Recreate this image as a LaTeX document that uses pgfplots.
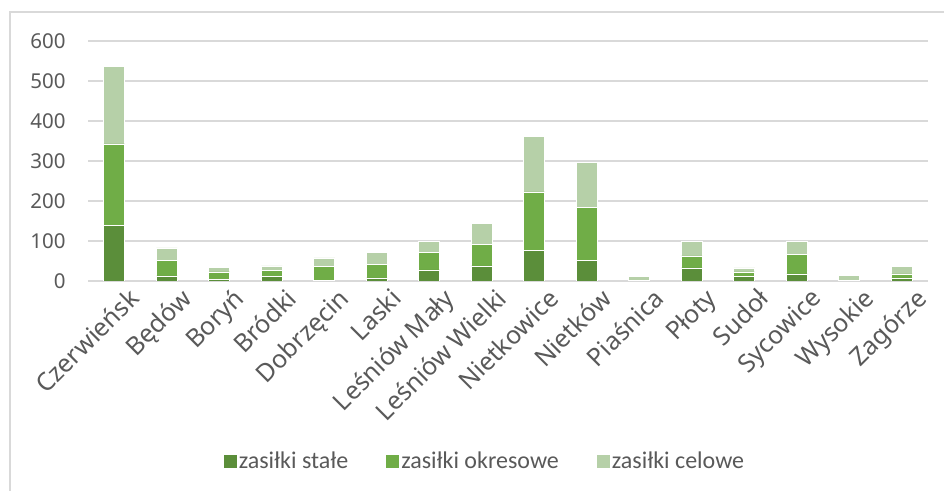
\documentclass[border=0pt]{standalone}
\usepackage{pgfplots}
\usepackage{pgfplotstable}
\pgfplotsset{compat=1.18}
\usepackage{fontspec}
\setmainfont{Carlito}
\newfontfamily\lblfont{Noto Sans}

\definecolor{cstale}{HTML}{5B8E3A}
\definecolor{cokres}{HTML}{70AD47}
\definecolor{ccelow}{HTML}{B6D0A8}
\definecolor{gridgray}{HTML}{D9D9D9}
\definecolor{txtgray}{HTML}{595959}

% x stale okresowe celowe
\pgfplotstableread{
x stale okres celowe
0 139 204 193
1 13 38 32
2 5 18 12
3 11 15 12
4 1 35 22
5 8 33 31
6 28 43 29
7 38 53 53
8 76 147 139
9 51 134 112
10 0 1 10
11 33 30 37
12 11 12 10
13 18 49 33
14 2 0 13
15 8 10 19
}\dane

\begin{document}
\begin{tikzpicture}
\useasboundingbox (0,0) rectangle (944bp,491bp);
\draw[gridgray, line width=1.5bp] (10bp,0) -- (10bp,479bp) -- (944bp,479bp);
\begin{axis}[
    at={(88bp,210bp)}, anchor=south west,
    scale only axis, width=840bp, height=240bp,
    ybar stacked, bar width=21bp,
    xmin=-0.5, xmax=15.5, ymin=0, ymax=600,
    ytick={0,100,...,600},
    xtick={0,...,15},
    xticklabels={Czerwieńsk, Będów, Boryń, Bródki, Dobrzęcin, Laski, Leśniów Mały, Leśniów Wielki, Nietkowice, Nietków, Piaśnica, Płoty, Sudoł, Sycowice, Wysokie, Zagórze},
    axis line style={draw=none},
    tick style={draw=none},
    ymajorgrids, grid style={gridgray, line width=1.5bp},
    /pgf/number format/assume math mode=true,
    yticklabel style={font=\lblfont\fontsize{20.5bp}{24bp}\selectfont, text=txtgray, xshift=-19bp},
    xticklabel style={font=\lblfont\fontsize{25bp}{29bp}\selectfont, text=txtgray,
        rotate=45, anchor=north east, inner sep=1bp, xshift=6bp, yshift=-12bp},
    legend columns=3,
    legend style={at={(0.4726,-0.75)}, anchor=center, draw=none, fill=none,
        font=\fontsize{24bp}{28bp}\selectfont, text=txtgray,
        /tikz/every even column/.append style={column sep=36bp}},
    legend image code/.code={\fill[#1, draw=none] (0bp,-7bp) rectangle (13bp,6bp);},
]
\addplot+[fill=cstale, draw=white, line width=0.6bp] table[x=x, y=stale] {\dane};
\addplot+[fill=cokres, draw=white, line width=0.6bp] table[x=x, y=okres] {\dane};
\addplot+[fill=ccelow, draw=white, line width=0.6bp] table[x=x, y=celowe] {\dane};
\legend{zasiłki stałe, zasiłki okresowe, zasiłki celowe}
\end{axis}
\end{tikzpicture}
\end{document}
